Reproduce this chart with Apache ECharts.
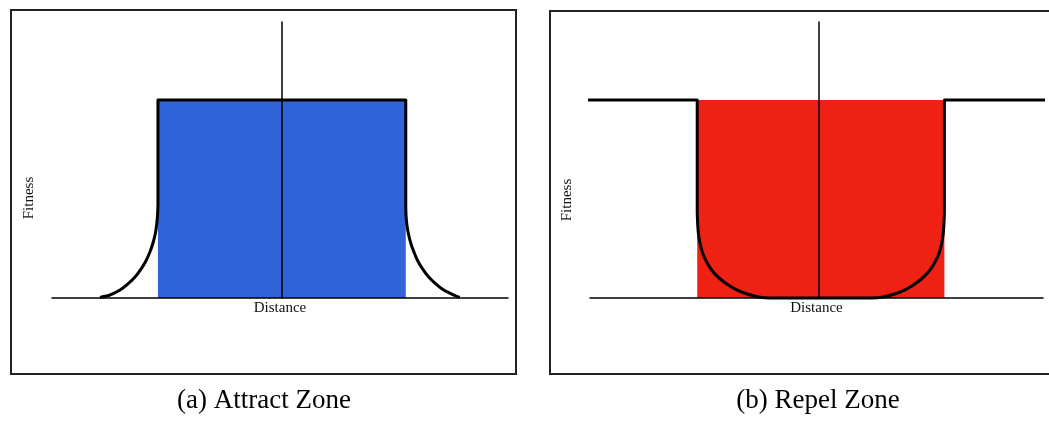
<!DOCTYPE html>
<html>
<head>
<meta charset="utf-8">
<script src="https://cdn.jsdelivr.net/npm/echarts@6/dist/echarts.min.js"></script>
<style>
  html, body { margin: 0; padding: 0; background: #fff; }
  #main { width: 1049px; height: 425px; }
</style>
</head>
<body>
<div id="main"></div>
<script>
// distance is 0 at the vertical axis, fitness 0 at baseline and 1 on the plateau
const xRange = [-1.855, 1.825]
const yRange = [0, 1.394]

// (a) attract zone
const attractZone = [[-1, 1], [1, 1]]
const attractCurveL = [[-1.468, 0.003], [-1.387, 0.015], [-1.306, 0.04], [-1.242, 0.071], [-1.185, 0.106], [-1.137, 0.146], [-1.097, 0.187], [-1.065, 0.232], [-1.04, 0.278], [-1.02, 0.328], [-1.008, 0.384], [-1.002, 0.434], [-1, 0.47]]
const attractTop = [[-1, 0.47], [-1, 1], [1, 1], [1, 0.455]]
const attractCurveR = [[1, 0.455], [1.002, 0.419], [1.008, 0.374], [1.02, 0.328], [1.04, 0.278], [1.069, 0.227], [1.097, 0.187], [1.137, 0.146], [1.185, 0.106], [1.242, 0.071], [1.306, 0.04], [1.371, 0.02], [1.435, 0.003]]

// (b) repel zone
const repelZone = [[-0.984, 1], [1.024, 1]]
const repelTopL = [[-1.911, 1], [-0.984, 1], [-0.984, 0.429]]
const repelCurve = [
  [-0.984, 0.429], [-0.98, 0.369], [-0.972, 0.313], [-0.955, 0.258], [-0.931, 0.212], [-0.898, 0.172], [-0.854, 0.131],
  [-0.797, 0.096], [-0.732, 0.066], [-0.659, 0.04], [-0.577, 0.02], [-0.488, 0.005], [-0.39, 0],
  [0.431, 0], [0.528, 0.005], [0.618, 0.02], [0.699, 0.04], [0.772, 0.066], [0.837, 0.096], [0.894, 0.131],
  [0.939, 0.172], [0.972, 0.212], [0.996, 0.258], [1.012, 0.313], [1.02, 0.369], [1.024, 0.429]
]
const repelTopR = [[1.024, 0.429], [1.024, 1], [1.878, 1]]

const labelFont = 'Liberation Serif'

let chart = echarts.init(document.getElementById('main'))

function axisX(idx) {
  return {
    type: 'value', gridIndex: idx, min: xRange[0], max: xRange[1],
    name: 'Distance', nameLocation: 'middle', nameGap: 3,
    nameTextStyle: { fontFamily: labelFont, fontSize: 15, color: '#111', verticalAlign: 'top' },
    axisLine: { show: true, onZero: false, lineStyle: { color: '#000', width: 1.5 } },
    axisTick: { show: false }, axisLabel: { show: false }, splitLine: { show: false },
    z: 5
  }
}
function axisY(idx) {
  return {
    type: 'value', gridIndex: idx, min: yRange[0], max: yRange[1],
    axisLine: { show: true, onZero: true, lineStyle: { color: '#000', width: 1.5 } },
    axisTick: { show: false }, axisLabel: { show: false }, splitLine: { show: false },
    z: 5
  }
}
function zone(idx, data, color) {
  return {
    type: 'line', xAxisIndex: idx, yAxisIndex: idx, data: data, symbol: 'none',
    lineStyle: { width: 0 }, areaStyle: { color: color, opacity: 1 }, z: 1, silent: true
  }
}
function outline(idx, data, smooth) {
  return {
    type: 'line', xAxisIndex: idx, yAxisIndex: idx, data: data, symbol: 'none',
    smooth: smooth, clip: false, lineStyle: { color: '#000', width: 3, join: 'round' }, z: 3, silent: true
  }
}

let option = {
  animation: false,
  grid: [
    { left: 52, right: 541, top: 22, bottom: 127 },
    { left: 590, right: 6, top: 22, bottom: 127 }
  ],
  xAxis: [axisX(0), axisX(1)],
  yAxis: [axisY(0), axisY(1)],
  series: [
    zone(0, attractZone, '#3163d8'),
    outline(0, attractCurveL, 0.2),
    outline(0, attractTop, false),
    outline(0, attractCurveR, 0.2),
    zone(1, repelZone, '#ee2114'),
    outline(1, repelTopL, false),
    outline(1, repelCurve, 0.2),
    outline(1, repelTopR, false)
  ],
  graphic: [
    { type: 'rect', shape: { x: 11, y: 10, width: 505, height: 364 }, style: { fill: null, stroke: '#222', lineWidth: 2 } },
    { type: 'rect', shape: { x: 550, y: 11, width: 520, height: 363 }, style: { fill: null, stroke: '#222', lineWidth: 2 } },
    { type: 'text', x: 29, y: 198, rotation: Math.PI / 2, style: { text: 'Fitness', font: '15px ' + labelFont, fill: '#111', textAlign: 'center', textVerticalAlign: 'middle' } },
    { type: 'text', x: 567, y: 200, rotation: Math.PI / 2, style: { text: 'Fitness', font: '15px ' + labelFont, fill: '#111', textAlign: 'center', textVerticalAlign: 'middle' } },
    { type: 'text', x: 264, y: 401, style: { text: '(a) Attract Zone', font: '27px ' + labelFont, fill: '#000', textAlign: 'center', textVerticalAlign: 'middle' } },
    { type: 'text', x: 818, y: 401, style: { text: '(b) Repel Zone', font: '27px ' + labelFont, fill: '#000', textAlign: 'center', textVerticalAlign: 'middle' } }
  ]
}
chart.setOption(option)
</script>
</body>
</html>
